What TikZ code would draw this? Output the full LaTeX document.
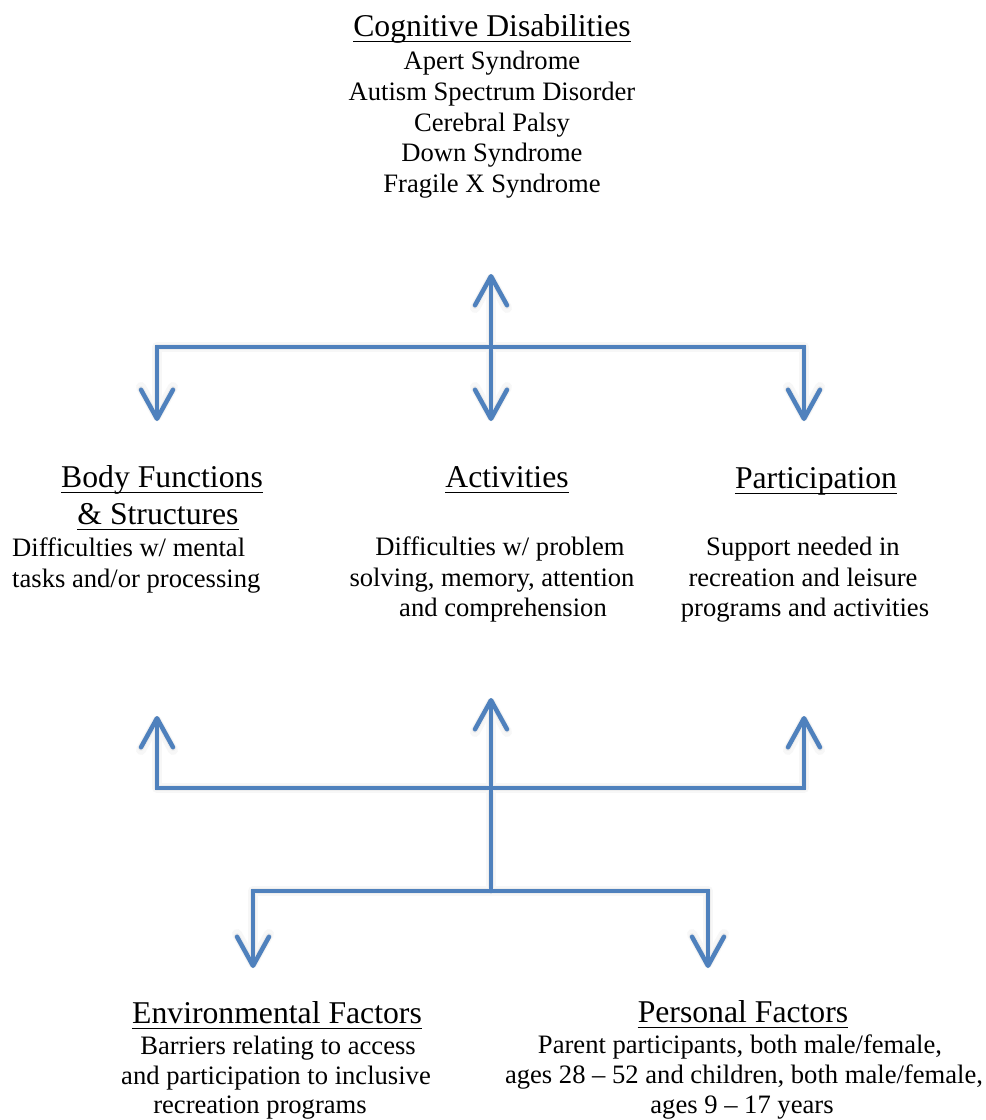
\documentclass[tikz,border=0pt]{standalone}
\usepackage{fontspec}
\setmainfont{Liberation Serif}
\usetikzlibrary{arrows.meta}
\definecolor{linkblue}{HTML}{4F81BD}
\begin{document}
\begin{tikzpicture}[x=1pt,y=-1pt,
  txt/.style={inner sep=0pt, anchor=base, font=\rmfamily\fontsize{26.6pt}{31pt}\selectfont},
  head/.style={inner sep=0pt, anchor=base, font=\rmfamily\fontsize{31.7pt}{36pt}\selectfont},
  uline/.style={line width=1.6pt, black},
  link/.style={line width=4.5pt, draw=linkblue, line cap=round, line join=miter},
  tipped/.style={-{Straight Barb[length=29pt,width=32pt,round]}},
  shadeA/.style={line width=10pt, draw=black!3, line cap=round, line join=round},
  shadeB/.style={line width=6pt, draw=black!7, line cap=round, line join=round}
]
\fill[white] (0,0) rectangle (986,1120);
\useasboundingbox (0,0) rectangle (986,1120);

% junctions and free ends of the connectors
\coordinate (upCD) at (491,274);
\coordinate (jA) at (491,347);
\coordinate (dnBF) at (157,421);
\coordinate (dnAC) at (491,421);
\coordinate (dnPA) at (804,421);
\coordinate (jB) at (491,788);
\coordinate (upBF) at (157,716);
\coordinate (upAC) at (491,698);
\coordinate (upPA) at (804,716);
\coordinate (jC) at (491,891);
\coordinate (dnEF) at (253,968);
\coordinate (dnPF) at (708,968);

% soft shadows
\foreach \sty in {shadeA,shadeB}{
\begin{scope}[shift={(2,4)}]
  \draw[\sty,tipped] (jA) -- (upCD);
  \draw[\sty,tipped] (jA) -| (dnBF);
  \draw[\sty,tipped] (jA) -- (dnAC);
  \draw[\sty,tipped] (jA) -| (dnPA);
  \draw[\sty,tipped] (jB) -| (upBF);
  \draw[\sty,tipped] (jB) -| (upPA);
  \draw[\sty,tipped] (jC) -- (upAC);
  \draw[\sty,tipped] (jC) -| (dnEF);
  \draw[\sty,tipped] (jC) -| (dnPF);
\end{scope}}

% connectors
\draw[link,tipped] (jA) -- (upCD);
\draw[link,tipped] (jA) -| (dnBF);
\draw[link,tipped] (jA) -- (dnAC);
\draw[link,tipped] (jA) -| (dnPA);
\draw[link,tipped] (jB) -| (upBF);
\draw[link,tipped] (jB) -| (upPA);
\draw[link,tipped] (jC) -- (upAC);
\draw[link,tipped] (jC) -| (dnEF);
\draw[link,tipped] (jC) -| (dnPF);

% top block
\node[head] (hCD) at (492,36) {Cognitive Disabilities};
\node[txt] (cd1) at (492,69) {Apert Syndrome};
\node[txt] (cd2) at (492,100) {Autism Spectrum Disorder};
\node[txt] (cd3) at (492,131) {Cerebral Palsy};
\node[txt] (cd4) at (492,161) {Down Syndrome};
\node[txt] (cd5) at (492,192) {Fragile X Syndrome};

% body functions
\node[head] (hBF) at (162,487) {Body Functions};
\node[head] (hBS) at (158,524) {\& Structures};
\node[txt, anchor=base west] (bf1) at (12,556) {Difficulties w/ mental};
\node[txt, anchor=base west] (bf2) at (12,587) {tasks and/or processing};

% activities
\node[head] (hAC) at (507,487) {Activities};
\node[txt] (ac1) at (500,555) {Difficulties w/ problem};
\node[txt] (ac2) at (492,586) {solving, memory, attention};
\node[txt] (ac3) at (503,616) {and comprehension};

% participation
\node[head] (hPA) at (816,488) {Participation};
\node[txt] (pa1) at (803,555) {Support needed in};
\node[txt] (pa2) at (803,586) {recreation and leisure};
\node[txt] (pa3) at (805,616) {programs and activities};

% environmental factors
\node[head] (hEF) at (277,1023) {Environmental Factors};
\node[txt] (ef1) at (278,1054) {Barriers relating to access};
\node[txt] (ef2) at (276,1084) {and participation to inclusive};
\node[txt] (ef3) at (260,1113) {recreation programs};

% personal factors
\node[head] (hPF) at (743,1022) {Personal Factors};
\node[txt] (pf1) at (740,1053) {Parent participants, both male/female,};
\node[txt] (pf2) at (744,1083) {ages 28 – 52 and children, both male/female,};
\node[txt] (pf3) at (742,1113) {ages 9 – 17 years};

% underlines of the headings
\foreach \n in {hCD,hBF,hBS,hAC,hPA,hEF,hPF}
  \draw[uline] ([yshift=-5.5pt]\n.base west) -- ([yshift=-5.5pt]\n.base east);
\end{tikzpicture}
\end{document}
